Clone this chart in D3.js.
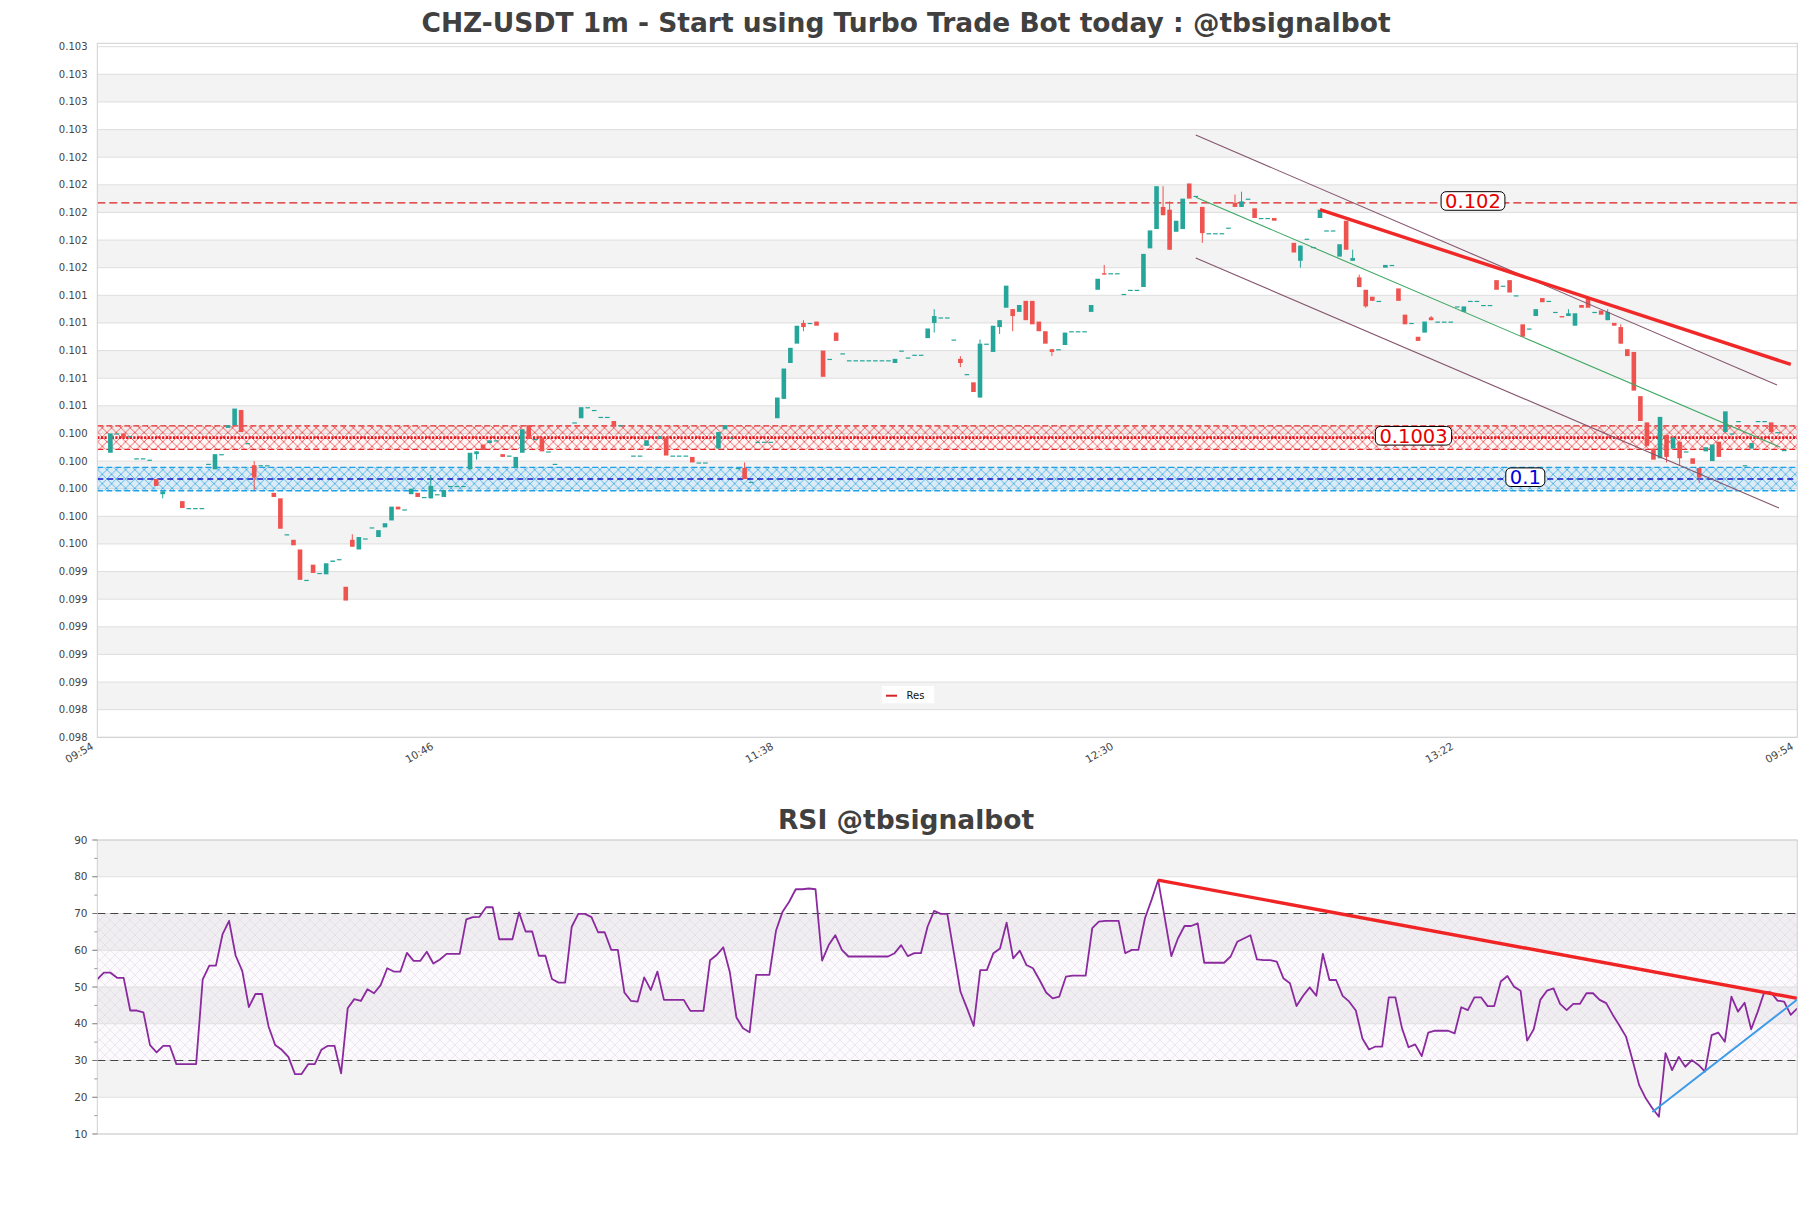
<!DOCTYPE html>
<html><head><meta charset="utf-8">
<script src="https://cdn.jsdelivr.net/npm/d3@7"></script>
<style>
body{margin:0;background:#fff}
svg{display:block}
text{font-family:"DejaVu Sans",sans-serif}
</style>
</head><body>
<svg id="chart" width="1811" height="1208"></svg>
<script>
// ---------------- DATA ----------------
const mainTitle = "CHZ-USDT 1m - Start using Turbo Trade Bot today : @tbsignalbot";
const rsiTitle = "RSI @tbsignalbot";
const xTickMinutes = [0, 52, 104, 156, 208, 260];          // minutes after 09:54
const xTickLabels = ["09:54", "10:46", "11:38", "12:30", "13:22", "09:54"];
const priceTicks = [0.09813,0.09833,0.09853,0.09873,0.09893,0.09913,0.09933,0.09953,0.09973,0.09993,
  0.10013,0.10033,0.10053,0.10073,0.10093,0.10113,0.10133,0.10153,0.10173,0.10193,
  0.10213,0.10233,0.10253,0.10273,0.10293,0.10313];
const rsiTicks = [10, 20, 30, 40, 50, 60, 70, 80, 90];
const rsiMinorTicks = [15, 25, 35, 45, 55, 65, 75, 85];
const firstCandleMinute = 2;   // first candle at 09:56

const open = [
0.10019,0.10033,0.10033,0.10031,0.10015,0.10015,0.10014,0.10000,0.09989,null,
null,0.09984,0.09979,0.09979,0.09979,0.10011,0.10007,0.10018,0.10037,0.10039,
0.10050,0.10026,0.10010,0.10010,0.10010,0.09990,0.09986,0.09960,0.09956,0.09949,
0.09927,0.09938,0.09932,0.09931,0.09940,0.09942,0.09922,0.09956,0.09949,0.09957,
0.09965,0.09958,0.09965,0.09970,0.09980,0.09978,0.09989,0.09990,0.09987,0.09986,
0.09989,0.09987,0.09995,0.09995,0.09995,0.10007,0.10018,0.10025,0.10026,0.10028,
0.10018,0.10017,0.10008,0.10019,0.10039,0.10029,0.10030,0.10020,0.10011,null,
null,0.10041,0.10044,0.10052,0.10050,0.10045,0.10045,0.10042,0.10039,null,
0.10017,0.10017,0.10024,null,0.10029,0.10030,0.10017,0.10017,0.10017,0.10016,
0.10012,0.10012,null,0.10022,0.10036,0.10030,0.10008,0.10008,0.09998,0.10027,
0.10027,0.10027,0.10044,0.10058,0.10084,0.10098,0.10113,0.10113,0.10114,0.10093,
0.10087,0.10106,0.10091,0.10086,0.10086,0.10086,0.10086,0.10086,0.10086,0.10086,
0.10084,0.10093,0.10088,0.10090,0.10090,0.10102,0.10113,0.10117,0.10117,0.10101,
0.10087,0.10076,0.10070,0.10059,0.10098,0.10092,0.10110,0.10124,0.10123,0.10121,
0.10129,0.10129,0.10114,0.10107,0.10094,0.10094,0.10097,0.10107,0.10107,0.10107,
0.10121,0.10137,0.10149,0.10149,0.10149,0.10134,0.10137,0.10137,0.10139,0.10167,
0.10181,0.10197,0.10195,0.10179,0.10181,0.10214,0.10205,0.10197,0.10178,0.10178,
0.10178,0.10182,0.10200,0.10197,0.10203,0.10196,0.10189,0.10189,0.10189,null,
null,0.10171,0.10158,0.10174,0.10168,0.10189,0.10180,0.10180,0.10161,0.10187,
0.10158,0.10146,0.10137,0.10132,0.10129,0.10153,0.10155,0.10138,0.10119,0.10113,
0.10103,0.10106,0.10117,0.10114,0.10114,0.10114,0.10125,0.10121,0.10129,0.10129,
0.10126,0.10126,0.10144,0.10140,0.10144,0.10133,0.10112,0.10109,0.10118,0.10131,
0.10129,0.10121,0.10118,0.10118,0.10111,0.10126,0.10131,0.10121,0.10122,0.10115,
0.10113,0.10110,0.10094,0.10092,0.10060,0.10041,0.10022,0.10015,0.10032,0.10022,
0.10027,0.10020,0.10015,0.10008,0.10020,0.10013,0.10027,0.10034,0.10033,0.10042,
0.10010,0.10022,0.10042,0.10042,0.10041,0.10034,0.10021];

const high = [
0.10033,0.10033,0.10033,0.10031,0.10015,0.10015,0.10014,0.10000,0.09991,null,
null,0.09984,0.09979,0.09979,0.09979,0.10011,0.10018,0.10018,0.10039,0.10051,
0.10050,0.10026,0.10013,0.10010,0.10010,0.09990,0.09986,0.09960,0.09956,0.09949,
0.09927,0.09938,0.09932,0.09939,0.09941,0.09942,0.09922,0.09960,0.09958,0.09957,
0.09965,0.09963,0.09968,0.09980,0.09980,0.09978,0.09993,0.09990,0.09987,0.10003,
0.09989,0.09992,0.09995,0.09995,0.09995,0.10019,0.10020,0.10025,0.10028,0.10028,
0.10018,0.10017,0.10016,0.10036,0.10039,0.10029,0.10030,0.10020,0.10011,null,
null,0.10041,0.10052,0.10052,0.10050,0.10045,0.10045,0.10042,0.10039,null,
0.10017,0.10017,0.10028,null,0.10031,0.10030,0.10017,0.10017,0.10017,0.10016,
0.10012,0.10012,null,0.10034,0.10039,0.10030,0.10008,0.10012,0.09998,0.10027,
0.10027,0.10027,0.10059,0.10080,0.10095,0.10111,0.10115,0.10113,0.10114,0.10093,
0.10087,0.10106,0.10091,0.10086,0.10086,0.10086,0.10086,0.10086,0.10086,0.10086,
0.10087,0.10093,0.10088,0.10090,0.10090,0.10109,0.10123,0.10117,0.10117,0.10101,
0.10089,0.10076,0.10070,0.10101,0.10098,0.10111,0.10115,0.10140,0.10123,0.10126,
0.10129,0.10129,0.10114,0.10107,0.10094,0.10094,0.10106,0.10107,0.10107,0.10107,
0.10126,0.10145,0.10155,0.10149,0.10149,0.10134,0.10137,0.10137,0.10163,0.10180,
0.10212,0.10212,0.10201,0.10187,0.10203,0.10214,0.10205,0.10197,0.10178,0.10178,
0.10178,0.10182,0.10206,0.10208,0.10203,0.10196,0.10189,0.10189,0.10189,null,
null,0.10171,0.10169,0.10174,0.10168,0.10195,0.10180,0.10180,0.10170,0.10187,
0.10166,0.10148,0.10137,0.10132,0.10129,0.10155,0.10155,0.10138,0.10119,0.10113,
0.10103,0.10114,0.10118,0.10114,0.10114,0.10114,0.10125,0.10125,0.10129,0.10129,
0.10126,0.10126,0.10144,0.10140,0.10144,0.10133,0.10112,0.10109,0.10123,0.10131,
0.10129,0.10121,0.10118,0.10123,0.10120,0.10126,0.10131,0.10121,0.10122,0.10123,
0.10113,0.10112,0.10094,0.10092,0.10060,0.10041,0.10022,0.10045,0.10032,0.10030,
0.10027,0.10020,0.10015,0.10008,0.10023,0.10025,0.10027,0.10049,0.10033,0.10042,
0.10010,0.10026,0.10042,0.10042,0.10041,0.10034,0.10021];

const low = [
0.10019,0.10033,0.10030,0.10031,0.10015,0.10015,0.10014,0.09995,0.09986,null,
null,0.09979,0.09979,0.09979,0.09979,0.10011,0.10007,0.10018,0.10037,0.10039,
0.10034,0.10026,0.09992,0.10010,0.10010,0.09987,0.09964,0.09960,0.09952,0.09927,
0.09927,0.09932,0.09932,0.09931,0.09940,0.09942,0.09912,0.09951,0.09949,0.09957,
0.09965,0.09958,0.09965,0.09970,0.09978,0.09978,0.09989,0.09987,0.09987,0.09986,
0.09989,0.09987,0.09995,0.09995,0.09995,0.10007,0.10014,0.10021,0.10026,0.10028,
0.10016,0.10017,0.10008,0.10019,0.10029,0.10029,0.10020,0.10020,0.10011,null,
null,0.10041,0.10044,0.10052,0.10050,0.10045,0.10045,0.10039,0.10039,null,
0.10017,0.10017,0.10024,null,0.10029,0.10017,0.10017,0.10017,0.10017,0.10012,
0.10012,0.10012,null,0.10022,0.10036,0.10030,0.10008,0.10000,0.09998,0.10027,
0.10027,0.10027,0.10044,0.10058,0.10084,0.10098,0.10107,0.10113,0.10111,0.10074,
0.10087,0.10100,0.10091,0.10086,0.10086,0.10086,0.10086,0.10086,0.10086,0.10086,
0.10084,0.10093,0.10088,0.10090,0.10090,0.10102,0.10106,0.10117,0.10117,0.10101,
0.10081,0.10076,0.10063,0.10059,0.10098,0.10092,0.10105,0.10124,0.10107,0.10121,
0.10115,0.10112,0.10107,0.10098,0.10089,0.10094,0.10097,0.10107,0.10107,0.10107,
0.10121,0.10137,0.10148,0.10149,0.10149,0.10134,0.10137,0.10137,0.10139,0.10167,
0.10181,0.10191,0.10166,0.10179,0.10181,0.10203,0.10205,0.10171,0.10178,0.10178,
0.10178,0.10182,0.10197,0.10197,0.10203,0.10189,0.10189,0.10189,0.10187,null,
null,0.10164,0.10153,0.10174,0.10168,0.10189,0.10180,0.10180,0.10161,0.10166,
0.10158,0.10139,0.10124,0.10129,0.10129,0.10153,0.10155,0.10129,0.10112,0.10113,
0.10100,0.10106,0.10115,0.10114,0.10114,0.10114,0.10125,0.10121,0.10129,0.10129,
0.10126,0.10126,0.10137,0.10140,0.10135,0.10133,0.10103,0.10109,0.10118,0.10128,
0.10129,0.10121,0.10117,0.10118,0.10111,0.10124,0.10124,0.10121,0.10119,0.10115,
0.10111,0.10098,0.10089,0.10064,0.10042,0.10024,0.10014,0.10015,0.10012,0.10022,
0.10010,0.10020,0.10011,0.09997,0.10020,0.10013,0.10016,0.10034,0.10033,0.10042,
0.10010,0.10022,0.10042,0.10042,0.10034,0.10034,0.10021];

const close = [
0.10033,0.10033,0.10030,0.10031,0.10015,0.10015,0.10014,0.09995,0.09991,null,
null,0.09979,0.09979,0.09979,0.09979,0.10011,0.10018,0.10018,0.10039,0.10051,
0.10034,0.10026,0.10001,0.10010,0.10010,0.09987,0.09964,0.09960,0.09952,0.09927,
0.09927,0.09932,0.09932,0.09939,0.09941,0.09942,0.09912,0.09951,0.09958,0.09957,
0.09965,0.09963,0.09968,0.09980,0.09978,0.09978,0.09993,0.09987,0.09987,0.09995,
0.09989,0.09992,0.09995,0.09995,0.09995,0.10019,0.10020,0.10021,0.10028,0.10028,
0.10016,0.10017,0.10016,0.10036,0.10029,0.10029,0.10020,0.10020,0.10011,null,
null,0.10041,0.10052,0.10052,0.10050,0.10045,0.10045,0.10039,0.10039,null,
0.10017,0.10017,0.10028,null,0.10031,0.10017,0.10017,0.10017,0.10017,0.10012,
0.10012,0.10012,null,0.10034,0.10039,0.10030,0.10008,0.10000,0.09998,0.10027,
0.10027,0.10027,0.10059,0.10080,0.10095,0.10111,0.10110,0.10113,0.10111,0.10074,
0.10087,0.10100,0.10091,0.10086,0.10086,0.10086,0.10086,0.10086,0.10086,0.10086,
0.10087,0.10093,0.10088,0.10090,0.10090,0.10109,0.10118,0.10117,0.10117,0.10101,
0.10084,0.10076,0.10063,0.10098,0.10098,0.10111,0.10115,0.10140,0.10118,0.10126,
0.10115,0.10112,0.10107,0.10098,0.10092,0.10094,0.10106,0.10107,0.10107,0.10107,
0.10126,0.10145,0.10148,0.10149,0.10149,0.10134,0.10137,0.10137,0.10163,0.10180,
0.10212,0.10191,0.10166,0.10187,0.10203,0.10203,0.10205,0.10178,0.10178,0.10178,
0.10178,0.10182,0.10197,0.10201,0.10203,0.10189,0.10189,0.10189,0.10187,null,
null,0.10164,0.10169,0.10174,0.10168,0.10195,0.10180,0.10180,0.10170,0.10166,
0.10160,0.10139,0.10125,0.10129,0.10129,0.10155,0.10155,0.10129,0.10112,0.10113,
0.10100,0.10114,0.10115,0.10114,0.10114,0.10114,0.10125,0.10125,0.10129,0.10129,
0.10126,0.10126,0.10137,0.10140,0.10135,0.10133,0.10103,0.10109,0.10123,0.10128,
0.10129,0.10121,0.10117,0.10120,0.10120,0.10124,0.10124,0.10121,0.10119,0.10121,
0.10111,0.10098,0.10089,0.10064,0.10042,0.10024,0.10014,0.10045,0.10016,0.10030,
0.10015,0.10020,0.10011,0.10001,0.10023,0.10025,0.10016,0.10049,0.10033,0.10042,
0.10010,0.10026,0.10042,0.10042,0.10034,0.10034,0.10021];

const rsi = [
52.1,53.9,53.9,52.5,52.5,43.6,43.6,43.1,34.2,32.2,
34.0,34.0,29.0,29.0,29.0,29.0,52.1,55.8,55.8,64.3,
68.0,58.5,54.4,44.5,48.1,48.1,39.2,34.2,32.9,31.0,
26.3,26.3,29.0,29.0,32.9,34.0,34.0,26.5,44.2,46.7,
46.2,49.4,48.3,50.5,55.1,54.2,54.2,59.3,57.1,57.1,
59.6,56.4,57.5,59.0,59.0,59.0,68.4,69.0,69.1,71.7,
71.7,63.0,63.0,63.0,70.3,65.1,65.1,58.5,58.5,52.2,
51.2,51.2,66.4,69.9,69.9,69.0,64.9,64.9,60.1,60.1,
48.5,46.2,46.0,52.6,49.2,54.2,46.5,46.5,46.5,46.5,
43.5,43.5,43.5,57.3,58.7,60.8,54.0,41.7,38.8,37.7,
53.3,53.3,53.3,65.3,70.5,73.2,76.6,76.6,76.8,76.6,
57.2,61.4,64.1,60.1,58.3,58.3,58.3,58.3,58.3,58.3,
58.3,59.2,61.4,58.4,59.2,59.2,66.4,70.7,69.9,69.9,
59.3,48.7,44.2,39.4,54.6,54.6,59.2,60.5,67.5,57.8,
59.9,56.0,55.1,51.9,48.5,46.9,47.4,52.8,53.1,53.1,
53.1,66.0,67.8,68.0,68.0,68.0,59.2,60.1,60.1,68.7,
73.7,79.1,68.8,58.4,63.2,66.6,66.6,67.3,56.6,56.6,
56.6,56.6,58.3,62.3,63.2,64.1,57.5,57.3,57.3,56.9,
52.4,51.0,44.8,47.6,49.9,47.6,59.0,51.9,51.9,47.6,
46.0,43.6,36.0,33.0,33.8,33.8,47.2,47.2,38.8,33.6,
34.4,31.2,37.6,38.1,38.1,38.1,37.4,44.5,43.7,47.2,
47.2,44.8,44.8,51.5,53.0,50.1,49.0,35.4,38.5,46.5,
49.0,49.6,45.4,43.7,45.4,45.4,48.3,48.3,46.5,45.6,
42.4,39.5,36.5,30.1,23.3,19.7,17.0,14.7,32.0,27.4,
31.0,28.3,30.1,28.8,27.0,36.9,37.6,35.1,47.4,43.3,
45.7,38.5,43.3,48.7,48.5,46.3,46.0,42.4,44.2];

// levels / zones (price)
const resistanceLevel = 0.102;
const zoneCenters = [0.1003, 0.1];
const zoneLow = [0.100215, 0.099915];
const zoneHigh = [0.100385, 0.100085];
const levelLabels = ["0.102", "0.1003", "0.1"];
// trend lines on price chart: [minute, price]
const resTrend = [[187, 0.10195], [259, 0.10083]];
const channelMid = [[168, 0.10204], [257.4, 0.10023]];
const channelUpper = [[168, 0.10249], [256.9, 0.10068]];
const channelLower = [[168, 0.10160], [257.2, 0.09979]];
// trend lines on RSI: [index, value]
const rsiResTrend = [[161, 79.1], [258, 46.9]];
const rsiSupTrend = [[236, 16.0], [258, 46.6]];
const legendLabels = ["Res"];

// ---------------- LAYOUT ----------------
const W = 1811, H = 1208;
const L = 97.3, R = 1797.3;
const mTop = 43.3, mBot = 737.3;
const rTop = 840, rBot = 1134;

const svg = d3.select("#chart");
svg.append("rect").attr("width", W).attr("height", H).attr("fill", "#fff");
const defs = svg.append("defs");
function hatch(id, color, size, sw) {
  const p = defs.append("pattern").attr("id", id).attr("patternUnits", "userSpaceOnUse")
    .attr("width", size).attr("height", size);
  p.append("path").attr("d", `M0,0L${size},${size}M${size},0L0,${size}`)
    .attr("stroke", color).attr("stroke-width", sw).attr("fill", "none");
}
hatch("hRed", "#ea2a2e", 9.3, 0.7);
hatch("hBlue", "#1e9fe6", 9.3, 0.7);
hatch("hRsi", "#d6cde0", 10, 0.45);
defs.append("clipPath").attr("id", "clipMain").append("rect")
  .attr("x", L).attr("y", mTop).attr("width", R - L).attr("height", mBot - mTop);
defs.append("clipPath").attr("id", "clipRsi").append("rect")
  .attr("x", L).attr("y", rTop).attr("width", R - L).attr("height", rBot - rTop);

const x = d3.scaleLinear().domain([0, 260]).range([L, R]);
const y = d3.scaleLinear().domain([priceTicks[0], priceTicks[0] + (mBot - mTop) / 690.6 * 0.005]).range([mBot, mTop]);
const xr = d3.scaleLinear().domain([0, rsi.length - 1]).range([L, R]);
const yr = d3.scaleLinear().domain([10, 90]).range([rBot, rTop]);

// ---------------- MAIN CHART ----------------
const gm = svg.append("g");
for (let k = 0; k < priceTicks.length - 1; k++) {
  if (k % 2 === 1) {
    gm.append("rect").attr("x", L).attr("width", R - L)
      .attr("y", y(priceTicks[k + 1])).attr("height", y(priceTicks[k]) - y(priceTicks[k + 1]))
      .attr("fill", "#f3f3f3");
  }
}
gm.selectAll("line.grid").data(priceTicks).join("line")
  .attr("x1", L).attr("x2", R).attr("y1", d => y(d)).attr("y2", d => y(d))
  .attr("stroke", "#dedede").attr("stroke-width", 1);

const gz = gm.append("g").attr("clip-path", "url(#clipMain)");
const zoneFill = ["rgba(255,80,80,0.05)", "rgba(0,170,255,0.09)"];
const zoneHatch = ["url(#hRed)", "url(#hBlue)"];
const zoneEdge = ["#e42626", "#1ea0e6"];
zoneCenters.forEach((c, i) => {
  const y0 = y(zoneHigh[i]), y1 = y(zoneLow[i]);
  gz.append("rect").attr("x", L).attr("width", R - L).attr("y", y0).attr("height", y1 - y0).attr("fill", zoneFill[i]);
  gz.append("rect").attr("x", L).attr("width", R - L).attr("y", y0).attr("height", y1 - y0).attr("fill", zoneHatch[i]);
  [zoneHigh[i], zoneLow[i]].forEach(v => {
    gz.append("line").attr("x1", L).attr("x2", R).attr("y1", y(v)).attr("y2", y(v))
      .attr("stroke", zoneEdge[i]).attr("stroke-width", 1.3).attr("stroke-dasharray", "6,3");
  });
});
gz.append("line").attr("x1", L).attr("x2", R).attr("y1", y(zoneCenters[0])).attr("y2", y(zoneCenters[0]))
  .attr("stroke", "#e8141c").attr("stroke-width", 2.6).attr("stroke-dasharray", "2.2,1.4");
gz.append("line").attr("x1", L).attr("x2", R).attr("y1", y(zoneCenters[1])).attr("y2", y(zoneCenters[1]))
  .attr("stroke", "#1414c8").attr("stroke-width", 1.5).attr("stroke-dasharray", "6,4");
gz.append("line").attr("x1", L).attr("x2", R).attr("y1", y(resistanceLevel)).attr("y2", y(resistanceLevel))
  .attr("stroke", "#d9201e").attr("stroke-width", 1.3).attr("stroke-dasharray", "8,4");

// candles
const candles = open.map((o, i) => ({ t: firstCandleMinute + i, o, h: high[i], l: low[i], c: close[i] }))
  .filter(d => d.o !== null);
const bw = 4.6;
const gc = gz.append("g");
candles.forEach(d => {
  const col = d.c >= d.o ? "#26a69a" : "#ef5350";
  const cx = x(d.t);
  if (d.h > Math.max(d.o, d.c) || d.l < Math.min(d.o, d.c)) {
    gc.append("line").attr("x1", cx).attr("x2", cx).attr("y1", y(d.h)).attr("y2", y(d.l))
      .attr("stroke", col).attr("stroke-width", 1);
  }
  const top = y(Math.max(d.o, d.c));
  const hgt = Math.max(1.2, Math.abs(y(d.o) - y(d.c)));
  gc.append("rect").attr("x", cx - bw / 2).attr("width", bw).attr("y", top).attr("height", hgt).attr("fill", col);
});

// trend / channel lines
const line = d3.line().x(d => x(d[0])).y(d => y(d[1]));
gz.append("path").attr("d", line(channelUpper)).attr("fill", "none").attr("stroke", "#85566e").attr("stroke-width", 1.1);
gz.append("path").attr("d", line(channelLower)).attr("fill", "none").attr("stroke", "#85566e").attr("stroke-width", 1.1);
gz.append("path").attr("d", line(channelMid)).attr("fill", "none").attr("stroke", "#3fa864").attr("stroke-width", 1.1);
gz.append("path").attr("d", line(resTrend)).attr("fill", "none").attr("stroke", "#f02828").attr("stroke-width", 3.4);

// level labels with rounded boxes
const labelMinutes = [210.4, 201.3, 218.4];
const labelLevels = [resistanceLevel, zoneCenters[0], zoneCenters[1]];
const labelColors = ["#e80000", "#e80000", "#0000dd"];
levelLabels.forEach((txt, i) => {
  const cx = x(labelMinutes[i]);
  const cy = y(labelLevels[i]) - 1.8;
  const g = gm.append("g");
  const t = g.append("text").attr("x", cx).attr("y", cy + 7).attr("text-anchor", "middle")
    .attr("font-size", 19.5).attr("fill", labelColors[i]).text(txt);
  const w = t.node().getComputedTextLength();
  g.insert("rect", "text").attr("x", cx - w / 2 - 4).attr("y", cy - 9.3).attr("width", w + 8).attr("height", 18.6)
    .attr("rx", 5).attr("fill", "#fff").attr("stroke", "#000").attr("stroke-width", 1);
});

gm.append("rect").attr("x", L).attr("y", mTop).attr("width", R - L).attr("height", mBot - mTop)
  .attr("fill", "none").attr("stroke", "#d0d0d0").attr("stroke-width", 1);

gm.selectAll("text.yl").data(priceTicks).join("text")
  .attr("x", 87.5).attr("y", d => y(d)).attr("dy", "0.35em").attr("text-anchor", "end")
  .attr("font-size", 10).attr("fill", "#444").text(d => d3.format(".3f")(d));
xTickMinutes.forEach((m, i) => {
  gm.append("text").attr("transform", `translate(${x(m) - 3},${mBot + 11}) rotate(-30)`)
    .attr("text-anchor", "end").attr("font-size", 10.5).attr("fill", "#444").text(xTickLabels[i]);
});

const lg = gm.append("g");
lg.append("rect").attr("x", 881.7).attr("y", 686).attr("width", 52.6).attr("height", 17.3)
  .attr("fill", "#fff").attr("fill-opacity", 0.85);
lg.append("line").attr("x1", 886).attr("x2", 897).attr("y1", 695.7).attr("y2", 695.7)
  .attr("stroke", "#d62424").attr("stroke-width", 2);
lg.append("text").attr("x", 906.5).attr("y", 699.3).attr("font-size", 10).attr("fill", "#111").text(legendLabels[0]);

svg.append("text").attr("x", 906).attr("y", 32).attr("text-anchor", "middle")
  .attr("font-size", 26.5).attr("font-weight", "bold").attr("fill", "#404040").text(mainTitle);

// ---------------- RSI CHART ----------------
const gr = svg.append("g");
[[80, 90], [60, 70], [40, 50], [20, 30]].forEach(b => {
  gr.append("rect").attr("x", L).attr("width", R - L).attr("y", yr(b[1])).attr("height", yr(b[0]) - yr(b[1]))
    .attr("fill", "#f3f3f3");
});
gr.append("rect").attr("x", L).attr("width", R - L).attr("y", yr(70)).attr("height", yr(30) - yr(70))
  .attr("fill", "rgba(200,175,220,0.06)");
gr.append("rect").attr("x", L).attr("width", R - L).attr("y", yr(70)).attr("height", yr(30) - yr(70))
  .attr("fill", "url(#hRsi)");
gr.selectAll("line.rg").data(rsiTicks).join("line")
  .attr("x1", L).attr("x2", R).attr("y1", d => yr(d)).attr("y2", d => yr(d))
  .attr("stroke", "#e0e0e0").attr("stroke-width", 1);
[70, 30].forEach(v => {
  gr.append("line").attr("x1", L).attr("x2", R).attr("y1", yr(v)).attr("y2", yr(v))
    .attr("stroke", "#444").attr("stroke-width", 1.2).attr("stroke-dasharray", "8,5");
});
const grc = gr.append("g").attr("clip-path", "url(#clipRsi)");
const rline = d3.line().x((d, i) => xr(i)).y(d => yr(d));
grc.append("path").attr("d", rline(rsi)).attr("fill", "none").attr("stroke", "#8a2a9e").attr("stroke-width", 1.8)
  .attr("stroke-linejoin", "round");
const tline = d3.line().x(d => xr(d[0])).y(d => yr(d[1]));
grc.append("path").attr("d", tline(rsiResTrend)).attr("fill", "none").attr("stroke", "#f02424").attr("stroke-width", 3.4);
grc.append("path").attr("d", tline(rsiSupTrend)).attr("fill", "none").attr("stroke", "#3d9be9").attr("stroke-width", 2);

gr.append("rect").attr("x", L).attr("y", rTop).attr("width", R - L).attr("height", rBot - rTop)
  .attr("fill", "none").attr("stroke", "#d0d0d0").attr("stroke-width", 1);
gr.selectAll("line.rt").data(rsiTicks).join("line")
  .attr("x1", L - 5).attr("x2", L).attr("y1", d => yr(d)).attr("y2", d => yr(d)).attr("stroke", "#777");
gr.selectAll("line.rm").data(rsiMinorTicks).join("line")
  .attr("x1", L - 3).attr("x2", L).attr("y1", d => yr(d)).attr("y2", d => yr(d)).attr("stroke", "#999");
gr.selectAll("text.rl").data(rsiTicks).join("text")
  .attr("x", 87.5).attr("y", d => yr(d)).attr("dy", "0.35em").attr("text-anchor", "end")
  .attr("font-size", 10.5).attr("fill", "#444").text(d => d);

svg.append("text").attr("x", 906).attr("y", 829).attr("text-anchor", "middle")
  .attr("font-size", 26.5).attr("font-weight", "bold").attr("fill", "#404040").text(rsiTitle);
</script>
</body></html>
